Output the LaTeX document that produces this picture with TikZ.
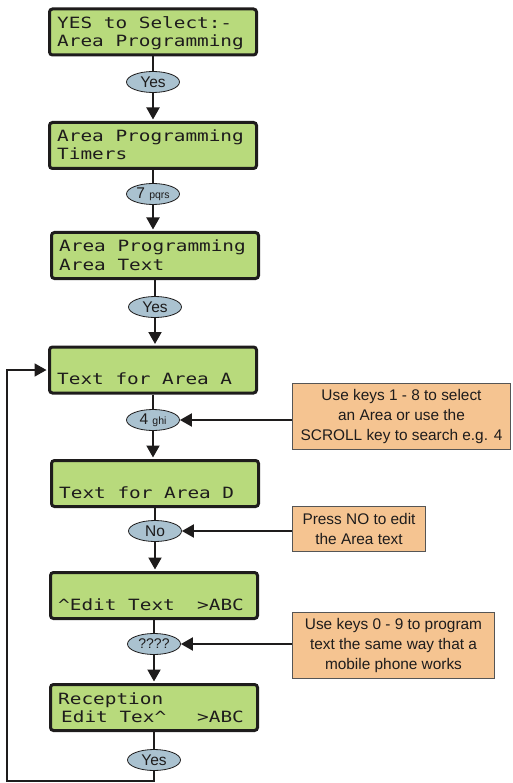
\documentclass[tikz,border=0pt]{standalone}
\usepackage{fontspec}
\setmainfont{Liberation Sans}
\newfontfamily\lcdfont[FakeStretch=1.25]{DejaVu Sans Mono}
\usetikzlibrary{shapes.geometric,arrows.meta}
\definecolor{lcdgreen}{RGB}{184,218,124}
\definecolor{keyblue}{RGB}{170,194,208}
\definecolor{noteorange}{RGB}{245,196,145}
\definecolor{notegray}{RGB}{85,85,85}
\definecolor{inkblack}{RGB}{30,28,28}
\begin{document}
\begin{tikzpicture}[x=1pt,y=-1pt,
  lcd/.style={draw=inkblack,line width=3pt,rounded corners=3pt,fill=lcdgreen,
    minimum width=207pt,minimum height=46pt,inner sep=0pt},
  lcdtxt/.style={anchor=base west,inner sep=0pt,text=inkblack,
    font=\lcdfont\fontsize{15.5}{19}\selectfont},
  keyell/.style={ellipse,draw=inkblack,line width=0.8pt,fill=keyblue,
    minimum width=53pt,minimum height=21pt,inner sep=0pt,text=inkblack,
    font=\fontsize{15.5}{16}\selectfont},
  note/.style={draw=notegray,line width=0.8pt,fill=noteorange,inner sep=0pt,
    align=center,text=inkblack,font=\fontsize{15.4}{20}\selectfont},
  conn/.style={draw=inkblack,line width=2pt},
  arr/.style={draw=inkblack,line width=2pt,-{Triangle[width=13pt,length=12pt]}},
]
\useasboundingbox (0,0) rectangle (512,783);

% LCD boxes
\node[lcd] (b1) at (153,32) {};
\node[lcd] (b2) at (153,145.5) {};
\node[lcd] (b3) at (155,255.5) {};
\node[lcd] (b4) at (153,370) {};
\node[lcd] (b5) at (155,483.5) {};
\node[lcd] (b6) at (154,595.5) {};
\node[lcd] (b7) at (154,707.5) {};

% LCD texts
\node[lcdtxt] (t1a) at (57,28.5) {YES to Select:-};
\node[lcdtxt] (t1b) at (57,46.5) {Area Programming};
\node[lcdtxt] (t2a) at (57,142) {Area Programming};
\node[lcdtxt] (t2b) at (57,160) {Timers};
\node[lcdtxt] (t3a) at (59,252) {Area Programming};
\node[lcdtxt] (t3b) at (59,270) {Area Text};
\node[lcdtxt] (t4b) at (57,384.5) {Text for Area A};
\node[lcdtxt] (t5b) at (59,498) {Text for Area D};
\node[lcdtxt] (t6b) at (58,610) {\makebox[139pt][l]{\symbol{94}Edit Text}>ABC};
\node[lcdtxt] (t7a) at (58,704) {Reception};
\node[lcdtxt] (t7b) at (58,722) {\hspace{3pt}\makebox[136pt][l]{Edit Tex\symbol{94}}>ABC};

% key ellipses
\node[keyell] (e1) at (153,82) {Yes};
\node[keyell] (e2) at (153,194) {7 {\fontsize{10.5}{10}\selectfont pqrs}};
\node[keyell] (e3) at (155,307) {Yes};
\node[keyell] (e4) at (153,420) {4 {\fontsize{10.5}{10}\selectfont ghi}};
\node[keyell] (e5) at (155,531) {No};
\node[keyell] (e6) at (154,644) {{\fontsize{14}{14}\selectfont ????}};
\node[keyell] (e7) at (154,760) {Yes};

% notes
\node[note,minimum width=218pt,minimum height=66pt] (nA) at (401.5,416.5)
  {Use keys 1 - 8 to select\\an Area or use the\\SCROLL key to search e.g. 4};
\node[note,minimum width=133pt,minimum height=45pt] (nB) at (359,529)
  {Press NO to edit\\the Area text};
\node[note,minimum width=202pt,minimum height=66pt] (nC) at (393.5,645.5)
  {Use keys 0 - 9 to program\\text the same way that a\\mobile phone works};

% connectors
\draw[conn] (b1.south) -- (e1.north);
\draw[arr,shorten >=1.5pt] (e1.south) -- (e1.south |- b2.north);
\draw[conn] (b2.south) -- (e2.north);
\draw[arr,shorten >=1.5pt] (e2.south) -- (e2.south |- b3.north);
\draw[conn] (b3.south) -- (e3.north);
\draw[arr,shorten >=1.5pt] (e3.south) -- (e3.south |- b4.north);
\draw[conn] (b4.south) -- (e4.north);
\draw[arr,shorten >=1.5pt] (e4.south) -- (e4.south |- b5.north);
\draw[conn] (b5.south) -- (e5.north);
\draw[arr,shorten >=1.5pt] (e5.south) -- (e5.south |- b6.north);
\draw[conn] (b6.south) -- (e6.north);
\draw[arr,shorten >=1.5pt] (e6.south) -- (e6.south |- b7.north);
\draw[conn] (b7.south) -- (e7.north);

% loop back
\coordinate (lb) at (7,781);
\draw[arr,shorten >=1.5pt,line width=1.8pt] (e7.south) |- (lb) |- (b4.west);

% note arrows
\draw[arr] (nA.west |- e4.east) -- (e4.east);
\draw[arr] (nB.west |- e5.east) -- (e5.east);
\draw[arr] (nC.west |- e6.east) -- (e6.east);
\end{tikzpicture}
\end{document}
